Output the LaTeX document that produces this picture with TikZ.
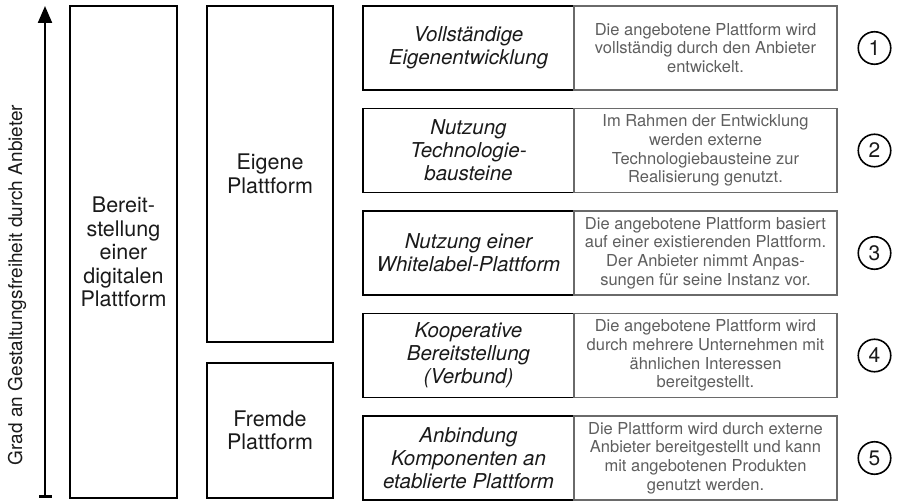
\documentclass[tikz,border=0pt]{standalone}
\usepackage{fontspec}
\setmainfont{TeX Gyre Heros}
\usetikzlibrary{arrows.meta}
\definecolor{descgray}{HTML}{5E5E5E}
\definecolor{framegray}{HTML}{6A6A6A}
\definecolor{inkblack}{HTML}{1A1A1A}
\begin{document}
\begin{tikzpicture}[x=1pt,y=-1pt,
  bigbox/.style={draw=black, line width=1.8pt, align=center, inner sep=0pt, text=inkblack, font=\fontsize{21.5}{23.5}\selectfont},
  titlebox/.style={draw=black, line width=1.8pt, minimum width=211pt, minimum height=84pt, align=center, inner sep=0pt, text=inkblack, font=\fontsize{20.5}{23}\selectfont\itshape},
  descbox/.style={draw=framegray, line width=1.8pt, minimum width=263pt, minimum height=84pt, align=center, inner sep=0pt, text=descgray, font=\fontsize{16.5}{18.8}\selectfont},
  numcircle/.style={draw=black, circle, line width=1.6pt, minimum size=32.5pt, inner sep=0pt, text=inkblack, font=\fontsize{21}{21}\selectfont},
  axisarrow/.style={line width=2.2pt, {Bar[width=13pt]}-{Triangle[width=14pt,length=17pt]}}]
\useasboundingbox (0,0) rectangle (898,503);

% axis
\coordinate (abot) at (45,497.5);
\coordinate (atop) at (45,6);
\draw[axisarrow] (abot) -- (atop);
\node[rotate=90, text=inkblack, font=\fontsize{19}{20}\selectfont] (axislabel) at (17,285) {Grad an Gestaltungsfreiheit durch Anbieter};

% left columns
\node[bigbox, minimum width=107pt, minimum height=492pt] (bereit) at (123.5,252) {Bereit-\\stellung\\einer\\digitalen\\Plattform};
\node[bigbox, minimum width=126pt, minimum height=336pt] (eigene) at (270,174) {Eigene\\Plattform};
\node[bigbox, minimum width=126pt, minimum height=135pt] (fremde) at (270,430.5) {Fremde\\Plattform};

% rows
\node[titlebox] (t1) at (468.5,48) {Vollständige\\Eigenentwicklung};
\node[descbox] (d1) at (705.5,48) {Die angebotene Plattform wird\\vollständig durch den Anbieter\\entwickelt.};
\node[numcircle] (n1) at (874.5,48) {1};

\node[titlebox] (t2) at (468.5,150.5) {Nutzung\\Technologie-\\bausteine};
\node[descbox] (d2) at (705.5,150.5) {Im Rahmen der Entwicklung\\werden externe\\Technologiebausteine zur\\Realisierung genutzt.};
\node[numcircle] (n2) at (874.5,150.5) {2};

\node[titlebox] (t3) at (468.5,253) {Nutzung einer\\Whitelabel-Plattform};
\node[descbox] (d3) at (705.5,253) {Die angebotene Plattform basiert\\auf einer existierenden Plattform.\\Der Anbieter nimmt Anpas-\\sungen für seine Instanz vor.};
\node[numcircle] (n3) at (874.5,253) {3};

\node[titlebox] (t4) at (468.5,355.5) {Kooperative\\Bereitstellung\\(Verbund)};
\node[descbox] (d4) at (705.5,355.5) {Die angebotene Plattform wird\\durch mehrere Unternehmen mit\\ähnlichen Interessen\\bereitgestellt.};
\node[numcircle] (n4) at (874.5,355.5) {4};

\node[titlebox] (t5) at (468.5,458) {Anbindung\\Komponenten an\\etablierte Plattform};
\node[descbox] (d5) at (705.5,458) {Die Plattform wird durch externe\\Anbieter bereitgestellt und kann\\mit angebotenen Produkten\\genutzt werden.};
\node[numcircle] (n5) at (874.5,458) {5};
\end{tikzpicture}
\end{document}
